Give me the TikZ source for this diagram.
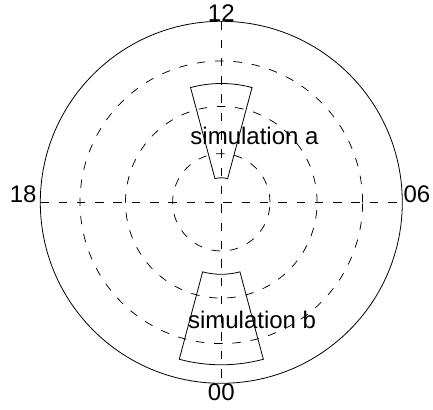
\documentclass[tikz,border=0pt]{standalone}
\usepackage{fontspec}
\setmainfont{Liberation Sans}
\begin{document}
\begin{tikzpicture}[x=1pt,y=1pt,
  solidline/.style={line width=0.8pt},
  gridline/.style={line width=0.75pt, dash pattern=on 8.5pt off 9.8pt},
  lbl/.style={font=\fontsize{24}{24}\selectfont, inner sep=0pt, anchor=base}]
\useasboundingbox (-221.3pt,-206.7pt) rectangle (211.7pt,202.3pt);
\coordinate (c) at (0,0);
% outer circle
\draw[solidline] (c) circle[radius=181pt];
% dashed circles
\draw[gridline] (c) circle[radius=141.3pt];
\draw[gridline] (c) circle[radius=95.8pt];
\draw[gridline] (c) circle[radius=48.7pt];
% dashed axes
\coordinate (L) at (-181pt,0);
\coordinate (R) at (181pt,0);
\coordinate (T) at (0,181pt);
\coordinate (B) at (0,-181pt);
\draw[gridline] (L) -- (R);
\draw[gridline] (T) -- (B);
% wedge a
\draw[solidline] (105:24.5pt) -- (105:118.8pt) arc[start angle=105,end angle=75,radius=118.8pt] -- (75:24.5pt) arc[start angle=75,end angle=105,radius=24.5pt] -- cycle;
% wedge b
\draw[solidline] (255:72pt) -- (255:162.5pt) arc[start angle=255,end angle=285,radius=162.5pt] -- (285:72pt) arc[start angle=285,end angle=255,radius=72pt] -- cycle;
% labels
\node[lbl] (l12) at (0pt,180.6pt) {12};
\node[lbl] (l00) at (0pt,-197.7pt) {00};
\node[lbl, anchor=base east] (l18) at (-184.6pt,-0.2pt) {18};
\node[lbl, anchor=base west] (l06) at (182pt,-0.2pt) {06};
\node[lbl] (sa) at (33.2pt,57.3pt) {simulation a};
\node[lbl] (sb) at (30.8pt,-125.7pt) {simulation b};
\end{tikzpicture}
\end{document}
